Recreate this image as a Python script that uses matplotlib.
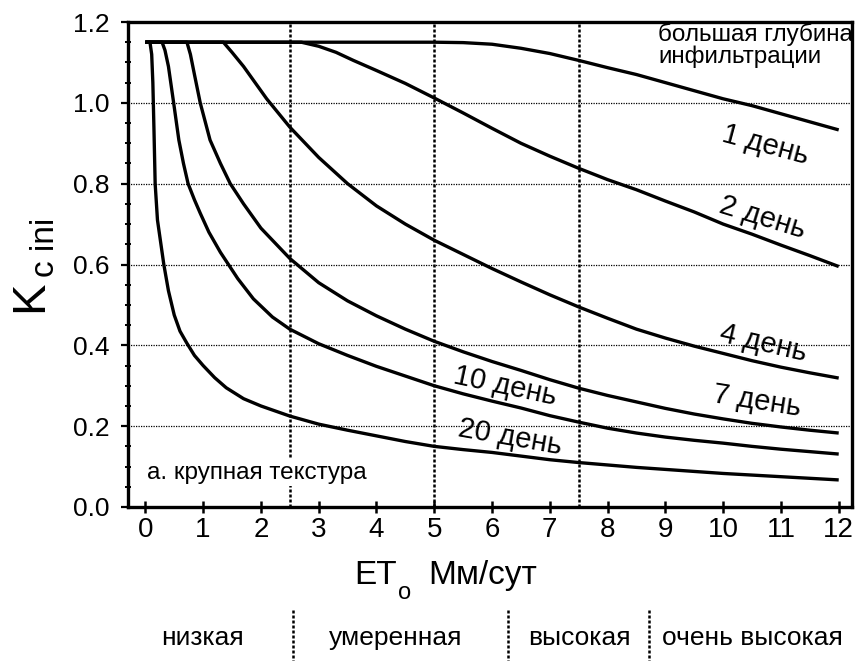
import matplotlib
matplotlib.use('Agg')
import matplotlib.pyplot as plt
from matplotlib.transforms import blended_transform_factory
from matplotlib.ticker import MultipleLocator, FormatStrFormatter
from matplotlib.lines import Line2D

plt.rcParams['font.family'] = ['Liberation Sans', 'DejaVu Sans']

# ---------------- data ----------------
eto_1 = [0, 5.0, 5.5, 6.0, 6.5, 7.0, 7.5, 8.0, 8.5, 9.0, 9.5, 10.0, 10.5, 11.0, 11.5, 12]
kc_1 = [1.15, 1.15, 1.149, 1.145, 1.135, 1.122, 1.105, 1.087, 1.07, 1.05, 1.03, 1.01,
        0.993, 0.973, 0.953, 0.933]

eto_2 = [0, 2.7, 3.0, 3.3, 3.6, 4.0, 4.5, 5.0, 5.5, 6.0, 6.5, 7.0, 7.5, 8.0, 8.5, 9.0,
         9.5, 10.0, 10.5, 11.0, 11.5, 12]
kc_2 = [1.15, 1.15, 1.14, 1.125, 1.105, 1.08, 1.048, 1.012, 0.975, 0.937, 0.90, 0.868,
        0.838, 0.81, 0.785, 0.757, 0.73, 0.70, 0.675, 0.648, 0.622, 0.595]

eto_4 = [0, 1.35, 1.5, 1.7, 1.9, 2.1, 2.5, 3.0, 3.5, 4.0, 4.5, 5.0, 5.5, 6.0, 6.5, 7.0,
         7.5, 8.0, 8.5, 9.0, 9.5, 10.0, 10.5, 11.0, 11.5, 12]
kc_4 = [1.15, 1.15, 1.125, 1.09, 1.05, 1.01, 0.94, 0.865, 0.80, 0.745, 0.70, 0.66, 0.625,
        0.59, 0.557, 0.525, 0.495, 0.467, 0.44, 0.418, 0.398, 0.38, 0.362, 0.346, 0.332, 0.319]

eto_7 = [0, 0.72, 0.78, 0.85, 0.95, 1.12, 1.3, 1.47, 1.7, 2.0, 2.5, 3.0, 3.5, 4.0, 4.5,
         5.0, 5.5, 6.0, 6.5, 7.0, 7.5, 8.0, 8.5, 9.0, 9.5, 10.0, 10.5, 11.0, 11.5, 12]
kc_7 = [1.15, 1.15, 1.12, 1.07, 1.0, 0.908, 0.85, 0.80, 0.75, 0.69, 0.615, 0.555, 0.51,
        0.473, 0.44, 0.41, 0.384, 0.36, 0.338, 0.315, 0.294, 0.276, 0.26, 0.244, 0.23,
        0.218, 0.207, 0.198, 0.19, 0.183]

eto_10 = [0, 0.29, 0.34, 0.40, 0.45, 0.49, 0.58, 0.66, 0.74, 0.85, 0.95, 1.1, 1.3, 1.6,
          1.87, 2.2, 2.5, 3.0, 3.5, 4.0, 4.5, 5.0, 5.5, 6.0, 6.5, 7.0, 7.5, 8.0, 8.5,
          9.0, 9.5, 10.0, 10.5, 11.0, 11.5, 12]
kc_10 = [1.15, 1.15, 1.13, 1.09, 1.04, 1.0, 0.908, 0.85, 0.80, 0.76, 0.727, 0.68, 0.63,
         0.565, 0.515, 0.47, 0.44, 0.404, 0.375, 0.348, 0.324, 0.30, 0.28, 0.262, 0.245,
         0.226, 0.21, 0.195, 0.183, 0.173, 0.165, 0.158, 0.15, 0.143, 0.137, 0.131]

eto_20 = [0, 0.08, 0.11, 0.13, 0.15, 0.17, 0.21, 0.26, 0.32, 0.4, 0.5, 0.6, 0.72, 0.85,
          1.0, 1.2, 1.4, 1.7, 2.0, 2.5, 3.0, 3.5, 4.0, 4.5, 5.0, 5.5, 6.0, 6.5, 7.0, 7.5,
          8.0, 8.5, 9.0, 9.5, 10.0, 10.5, 11.0, 11.5, 12]
kc_20 = [1.15, 1.15, 1.12, 1.05, 0.93, 0.80, 0.71, 0.66, 0.60, 0.535, 0.475, 0.435, 0.405,
         0.375, 0.35, 0.32, 0.295, 0.268, 0.25, 0.225, 0.205, 0.19, 0.176, 0.162, 0.15,
         0.142, 0.135, 0.126, 0.117, 0.11, 0.104, 0.098, 0.093, 0.088, 0.083, 0.079,
         0.075, 0.071, 0.067]

curve_labels = ['1 день', '2 день', '4 день', '7 день', '10 день', '20 день']
label_x = [10.73, 10.69, 10.69, 10.59, 6.23, 6.31]
label_y = [0.896, 0.715, 0.405, 0.262, 0.30, 0.173]
label_rot = [-15, -17, -13, -9, -12, -10]

y_ticks = [0.0, 0.2, 0.4, 0.6, 0.8, 1.0, 1.2]
x_ticks = list(range(0, 13))
et_classes = ['низкая', 'умеренная', 'высокая', 'очень высокая']
class_centers = [0.99, 4.33, 7.51, 10.5]
class_bounds = [2.55, 6.27, 8.72]
vlines = [2.5, 5.0, 7.5]
hgrid = [0.2, 0.4, 0.6, 0.8, 1.0]

# ---------------- figure ----------------
W, H = 855, 661
fig = plt.figure(figsize=(W / 100, H / 100), dpi=100)
ax = fig.add_axes([128 / W, 1 - 507 / H, (852 - 128) / W, (507 - 22) / H])
ax.set_xlim(-0.3, 12.23)
ax.set_ylim(0, 1.2)

for s in ax.spines.values():
    s.set_linewidth(2.4)

for yv in hgrid:
    ax.axhline(yv, color='k', lw=0.9, ls=(0, (1, 1)), zorder=1)
for xv in vlines:
    ax.axvline(xv, color='k', lw=1.8, ls=(0, (1.2, 0.8)), zorder=1)

series = [(eto_1, kc_1), (eto_2, kc_2), (eto_4, kc_4), (eto_7, kc_7), (eto_10, kc_10), (eto_20, kc_20)]
for xs, ys in series:
    ax.plot(xs, ys, color='k', lw=2.4, solid_joinstyle='round', solid_capstyle='butt', zorder=3)

for t, lx, ly, r in zip(curve_labels, label_x, label_y, label_rot):
    ax.text(lx, ly, t, fontsize=21, rotation=r, rotation_mode='anchor',
            ha='center', va='center', zorder=4)

ax.text(8.88, 1.197, 'большая глубина\nинфильтрации', fontsize=17.5, ha='left', va='top',
        linespacing=0.95, zorder=4)
ax.text(0.03, 0.085, 'а. крупная текстура', fontsize=17.5, ha='left', va='center', zorder=4,
        bbox=dict(facecolor='white', edgecolor='none', pad=1.5))

ax.set_xticks(x_ticks)
ax.set_yticks(y_ticks)
ax.yaxis.set_major_formatter(FormatStrFormatter('%.1f'))
ax.yaxis.set_minor_locator(MultipleLocator(0.05))
ax.tick_params(axis='x', which='major', direction='inout', length=9, width=1.8,
               labelsize=20, pad=3)
ax.tick_params(axis='y', which='major', direction='out', length=5, width=1.6,
               labelsize=19, pad=8)
ax.tick_params(axis='y', which='minor', direction='inout', length=5, width=1.4)

# y label: K with subscript "c ini"
fig.text(30 / W, 1 - 296 / H, 'K', fontsize=34, rotation=90, ha='center', va='center')
fig.text(45 / W, 1 - 247 / H, 'c ini', fontsize=24, rotation=90, ha='center', va='center')

# x label: ET with subscript o, units
fig.text(397 / W, 1 - 584 / H, 'ET', fontsize=24, ha='right', va='baseline')
fig.text(398 / W, 1 - 599 / H, 'o', fontsize=17, ha='left', va='baseline')
fig.text(428 / W, 1 - 584 / H, 'Мм/сут', fontsize=24, ha='left', va='baseline')

# ET classes below the axis
trans = blended_transform_factory(ax.transData, fig.transFigure)
for b in class_bounds:
    fig.add_artist(Line2D([b, b], [1 - 610 / H, 0], transform=trans, color='k',
                          lw=1.8, ls=(0, (1.2, 0.8))))
for c, name in zip(class_centers, et_classes):
    fig.text(c, 1 - 645 / H, name, transform=trans, fontsize=19, ha='center', va='baseline')

fig.savefig('out.png', dpi=100)
